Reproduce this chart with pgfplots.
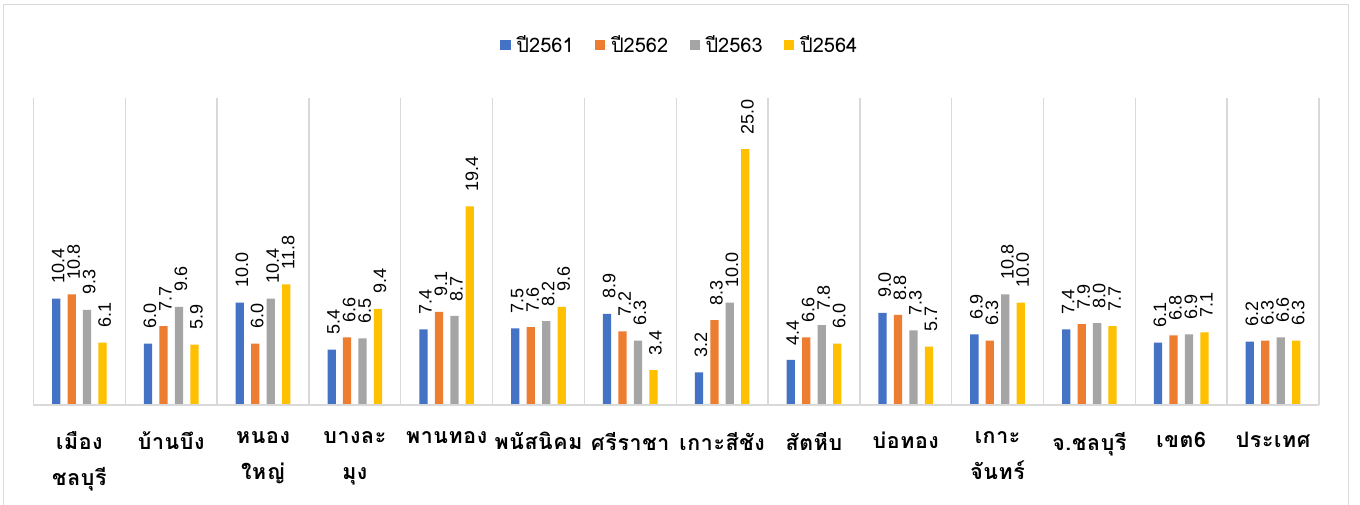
\documentclass[border=0pt]{standalone}
\usepackage{fontspec}
\usepackage{pgfplots}
\pgfplotsset{compat=1.18}
\setmainfont{Liberation Sans}
\newfontfamily\thaifont[Script=Thai]{Loma}
\newfontfamily\thaisp[Script=Thai,LetterSpace=3]{Loma}
\definecolor{c1}{HTML}{4472C4}
\definecolor{c2}{HTML}{ED7D31}
\definecolor{c3}{HTML}{A5A5A5}
\definecolor{c4}{HTML}{FFC000}
\definecolor{gridgray}{HTML}{D9D9D9}
\pgfplotsset{/pgfplots/ybar legend/.style={/pgfplots/legend image code/.code={\path (0pt,0pt) -- (10pt,0pt); \fill[##1, draw=none, /pgf/bar shift=0pt] (0pt,-3.9pt) rectangle (7.8pt,3.9pt);}}}
\begin{document}
\begin{tikzpicture}
\fill[white] (-25.1pt,-74.25pt) rectangle (994.9pt,303.75pt);
\useasboundingbox (-25.1pt,-74.25pt) rectangle (994.9pt,303.75pt);
\draw[gridgray, line width=0.75pt] (-22.1pt,-80pt) rectangle (985.9pt,300pt);
\begin{axis}[
  at={(0,0)}, anchor=south west, scale only axis,
  width=964.1pt, height=230.25pt,
  xmin=-0.5, xmax=13.5, ymin=0, ymax=30,
  axis line style={draw=none},
  clip=false,
  ybar=5.4pt, bar width=6.2pt,
  xtick={0,...,13}, ytick=\empty,
  xticklabels={{เมือง\\ชลบุรี},{บ้านบึง},{หนอง\\ใหญ่},{บางละ\\มุง},{พานทอง},{พนัสนิคม},{ศรีราชา},{เกาะสีชัง},{สัตหีบ},{บ่อทอง},{เกาะ\\จันทร์},{จ.ชลบุรี},{เขต6},{ประเทศ}},
  xticklabel style={font=\thaisp\bfseries\fontsize{16pt}{27pt}\selectfont, align=center, anchor=north, inner sep=0pt, yshift=-20pt},
  major tick length=0pt, minor tick length=0pt,
  minor xtick={-0.5,0.5,...,13.5},
  xminorgrids=true,
  minor grid style={draw=gridgray, line width=1pt},
  /pgf/number format/assume math mode=true,
  nodes near coords={\pgfmathprintnumber[fixed,fixed zerofill,precision=1]{\pgfplotspointmeta}},
  every node near coord/.append style={xshift=1.5pt, rotate=90, anchor=west, font=\fontsize{13.5pt}{15pt}\selectfont, inner xsep=11pt, inner ysep=0pt, text=black},
  legend style={at={(0.5,1)}, anchor=center, xshift=3pt, yshift=39.75pt, legend columns=4, draw=none, fill=none,
    font=\thaifont\fontsize{15pt}{16pt}\selectfont,
    /tikz/every even column/.append style={column sep=14pt}},
]
\addplot[fill=c1, draw=none] coordinates {(0,10.4) (1,6.0) (2,10.0) (3,5.4) (4,7.4) (5,7.5) (6,8.9) (7,3.2) (8,4.4) (9,9.0) (10,6.9) (11,7.4) (12,6.1) (13,6.2)};
\addplot[fill=c2, draw=none] coordinates {(0,10.8) (1,7.7) (2,6.0) (3,6.6) (4,9.1) (5,7.6) (6,7.2) (7,8.3) (8,6.6) (9,8.8) (10,6.3) (11,7.9) (12,6.8) (13,6.3)};
\addplot[fill=c3, draw=none] coordinates {(0,9.3) (1,9.6) (2,10.4) (3,6.5) (4,8.7) (5,8.2) (6,6.3) (7,10.0) (8,7.8) (9,7.3) (10,10.8) (11,8.0) (12,6.9) (13,6.6)};
\addplot[fill=c4, draw=none] coordinates {(0,6.1) (1,5.9) (2,11.8) (3,9.4) (4,19.4) (5,9.6) (6,3.4) (7,25.0) (8,6.0) (9,5.7) (10,10.0) (11,7.7) (12,7.1) (13,6.3)};
\legend{ปี2561,ปี2562,ปี2563,ปี2564}
\draw[gridgray, line width=1.5pt] (axis cs:-0.5,0) -- (axis cs:13.5,0);
\end{axis}
\end{tikzpicture}
\end{document}
